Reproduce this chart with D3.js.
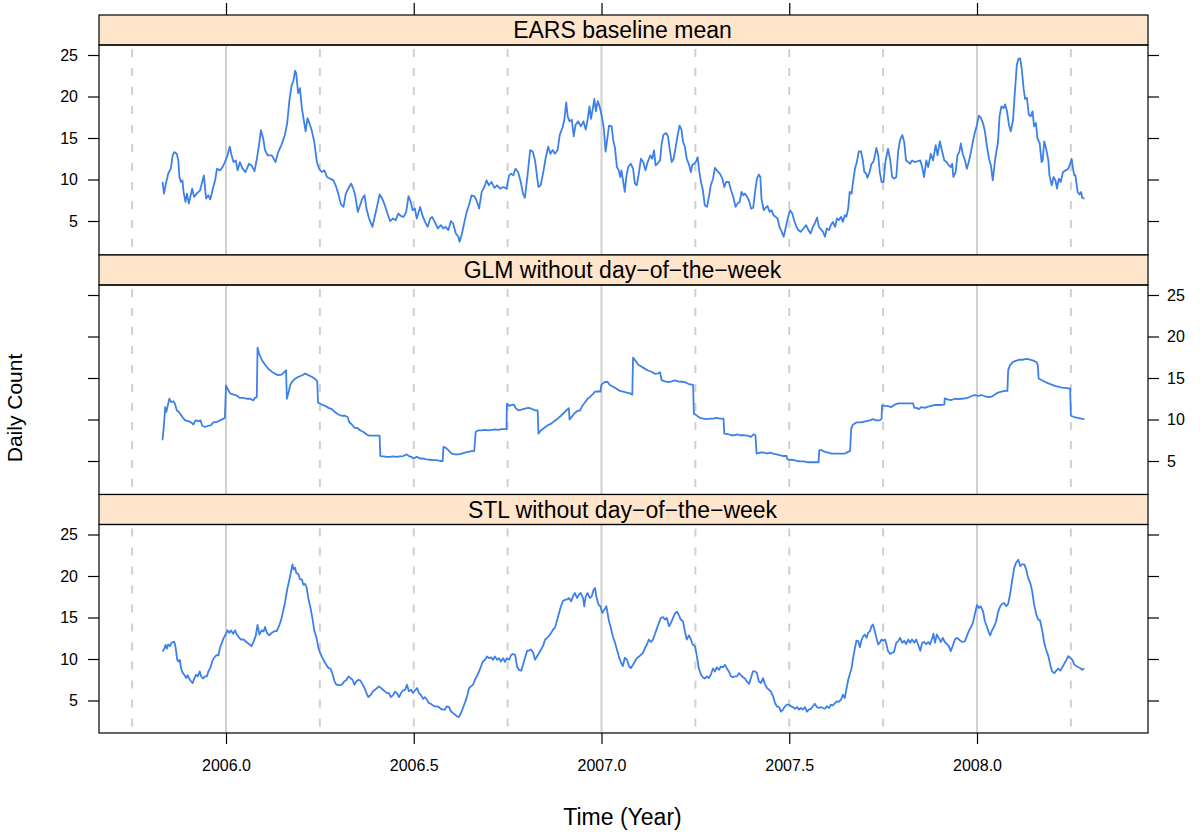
<!DOCTYPE html>
<html><head><meta charset="utf-8">
<script src="https://cdn.jsdelivr.net/npm/d3@7"></script>
<style>
body{margin:0;background:#fff}
svg{display:block}
text{font-family:"Liberation Sans",Arial,Helvetica,sans-serif;fill:#000}
</style>
</head><body>
<svg id="chart" width="1200" height="835"></svg>
<script>
// ---------------- data ----------------
const panelTitles = ["EARS baseline mean", "GLM without day\u2212of\u2212the\u2212week", "STL without day\u2212of\u2212the\u2212week"];
const xTicks = [2006.0, 2006.5, 2007.0, 2007.5, 2008.0];
const yTicks = [5, 10, 15, 20, 25];
const solidRefs = [2006, 2007, 2008];
const dashedRefs = [2005.75, 2006.25, 2006.5, 2006.75, 2007.25, 2007.5, 2007.75, 2008.25];
const xLabel = "Time (Year)";
const yLabel = "Daily Count";

const earsT = [2005.831,2005.835,2005.839,2005.846,2005.853,2005.858,2005.862,2005.869,2005.873,2005.876,2005.880,2005.884,2005.887,2005.892,2005.896,2005.901,2005.905,2005.910,2005.915,2005.922,2005.931,2005.941,2005.947,2005.953,2005.958,2005.964,2005.971,2005.976,2005.984,2005.991,2005.997,2006.004,2006.010,2006.015,2006.020,2006.026,2006.031,2006.037,2006.044,2006.052,2006.061,2006.068,2006.076,2006.083,2006.088,2006.093,2006.099,2006.104,2006.111,2006.122,2006.132,2006.139,2006.148,2006.157,2006.163,2006.169,2006.175,2006.179,2006.184,2006.187,2006.192,2006.197,2006.202,2006.207,2006.212,2006.217,2006.222,2006.228,2006.235,2006.242,2006.248,2006.255,2006.262,2006.269,2006.277,2006.286,2006.292,2006.299,2006.306,2006.313,2006.319,2006.328,2006.333,2006.339,2006.344,2006.351,2006.357,2006.363,2006.369,2006.374,2006.381,
2006.390,2006.397,2006.403,2006.409,2006.416,2006.423,2006.430,2006.437,2006.445,2006.452,2006.459,2006.466,2006.473,2006.480,2006.486,2006.492,2006.497,2006.503,2006.508,2006.512,2006.517,2006.523,2006.530,2006.537,2006.544,2006.549,2006.556,2006.564,2006.572,2006.579,2006.585,2006.592,2006.599,2006.605,2006.612,2006.619,2006.622,2006.628,2006.635,2006.641,2006.647,2006.654,2006.661,2006.667,2006.674,2006.681,2006.688,2006.694,2006.700,2006.707,2006.715,2006.722,2006.730,2006.739,2006.747,2006.754,2006.759,2006.765,2006.771,2006.778,2006.785,2006.791,2006.796,2006.803,2006.810,2006.817,2006.823,2006.828,2006.832,2006.838,2006.845,2006.851,2006.858,2006.864,2006.870,2006.876,2006.883,2006.889,2006.896,2006.901,2006.906,2006.910,2006.915,2006.921,2006.926,2006.931,2006.938,2006.945,2006.952,2006.958,2006.963,2006.968,2006.972,2006.977,2006.981,2006.985,2006.990,2006.995,2007.000,2007.006,2007.011,
2007.020,2007.027,2007.031,2007.036,2007.041,2007.046,2007.050,2007.053,2007.058,2007.062,2007.066,2007.071,2007.078,2007.084,2007.089,2007.094,2007.100,2007.105,2007.111,2007.117,2007.123,2007.130,2007.135,2007.140,2007.144,2007.149,2007.156,2007.160,2007.165,2007.172,2007.177,2007.182,2007.187,2007.192,2007.197,2007.203,2007.208,2007.213,2007.217,2007.222,2007.227,2007.233,2007.238,2007.242,2007.247,2007.252,2007.256,2007.260,2007.265,2007.270,2007.275,2007.281,2007.286,2007.291,2007.297,2007.302,2007.309,2007.315,2007.322,2007.327,2007.332,2007.339,2007.345,2007.351,2007.357,2007.362,2007.368,2007.373,2007.378,2007.382,2007.388,2007.394,2007.398,2007.404,2007.409,2007.414,2007.419,2007.423,2007.426,2007.432,2007.437,2007.442,2007.448,2007.453,2007.458,2007.464,2007.469,2007.474,2007.480,2007.485,2007.490,2007.496,2007.502,2007.508,2007.513,2007.519,2007.524,2007.531,2007.538,2007.545,2007.551,2007.557,2007.563,2007.568,2007.574,2007.579,2007.584,2007.590,2007.595,2007.600,2007.606,2007.611,2007.616,2007.622,2007.627,2007.632,2007.638,2007.643,2007.648,
2007.652,2007.657,2007.661,2007.666,2007.670,2007.675,2007.680,2007.685,2007.691,2007.696,2007.700,2007.705,2007.708,2007.714,2007.719,2007.724,2007.728,2007.732,2007.737,2007.741,2007.746,2007.751,2007.756,2007.763,2007.769,2007.774,2007.779,2007.785,2007.790,2007.795,2007.801,2007.806,2007.811,2007.817,2007.822,2007.827,2007.834,2007.842,2007.849,2007.854,2007.859,2007.865,2007.870,2007.877,2007.883,2007.890,2007.895,2007.901,2007.907,2007.913,2007.919,2007.925,2007.930,2007.934,2007.937,2007.943,2007.948,2007.953,2007.957,2007.962,2007.968,2007.973,2007.978,2007.984,2007.989,2007.994,2008.000,2008.005,2008.010,2008.016,2008.021,2008.026,2008.032,2008.037,2008.042,2008.048,2008.053,2008.056,2008.060,2008.065,2008.071,2008.075,2008.080,2008.085,2008.090,2008.096,2008.101,2008.106,2008.110,2008.115,2008.119,2008.124,2008.128,2008.133,2008.138,2008.143,2008.148,2008.152,2008.157,2008.161,2008.167,2008.172,2008.175,2008.179,2008.184,2008.190,2008.193,2008.199,2008.204,2008.209,2008.213,2008.218,2008.223,2008.229,2008.236,2008.243,2008.248,2008.252,2008.255,2008.259,2008.262,2008.268,2008.273,2008.277,2008.280,2008.286];
const earsV = [9.7,8.3,9.3,10.7,11.3,12.9,13.3,13.1,12.3,10.3,9.7,9.9,8.5,7.3,8.3,7.1,7.9,8.9,7.9,8.3,8.7,10.5,7.7,8.1,7.6,8.7,9.9,11.3,11.1,11.5,12.1,12.9,13.95,12.9,12.1,12.3,11.1,12.1,11.3,10.9,11.9,11.7,11.0,12.7,14.2,15.96,14.95,13.55,12.9,12.9,12.1,13.3,14.2,15.4,16.8,19.6,21.4,21.8,23.1,22.8,20.4,21.0,18.6,17.2,15.8,17.4,16.8,15.96,14.55,12.1,11.3,10.9,11.1,10.3,10.1,9.9,9.3,8.3,7.0,6.7,8.3,9.1,9.5,8.9,8.1,6.1,6.9,7.7,8.1,6.5,5.3,
4.3,5.7,6.9,8.2,7.7,6.9,5.9,5.0,5.3,5.1,5.9,5.6,5.5,6.1,8.0,7.3,6.3,6.5,5.3,5.9,6.7,5.7,4.9,4.3,5.3,5.5,4.9,4.1,4.5,4.1,4.3,3.9,5.0,4.7,3.5,3.1,2.5,3.4,4.9,6.1,6.9,8.1,8.0,7.5,6.5,8.5,9.1,9.9,9.3,9.7,9.0,9.3,8.9,9.1,8.9,10.5,10.7,10.5,11.3,10.9,9.7,8.3,7.8,10.5,13.55,13.35,12.3,10.5,9.1,9.3,10.9,12.5,13.95,13.1,13.55,13.1,13.55,15.4,16.2,17.2,19.3,17.6,17.0,17.2,15.2,16.6,17.0,16.4,17.0,16.0,17.2,18.8,17.3,18.6,19.7,18.2,19.45,18.8,17.8,16.2,13.35,
16.5,16.4,14.8,13.75,11.5,11.1,10.3,11.1,9.7,8.5,10.3,11.5,11.9,11.3,9.5,9.3,10.9,12.5,12.1,11.1,12.1,12.9,12.5,13.5,11.7,11.9,12.3,14.2,15.4,15.6,15.2,13.55,12.1,12.5,13.75,15.4,16.5,16.0,14.55,13.95,12.5,11.8,10.9,11.8,11.9,12.2,12.7,11.1,9.7,8.7,6.9,6.7,7.9,9.3,10.1,11.4,11.0,10.7,10.1,9.1,9.7,9.7,8.7,7.9,6.7,7.1,7.3,8.5,8.1,8.3,7.9,7.3,6.5,6.6,8.5,10.1,10.6,10.3,7.7,6.3,6.6,6.8,6.1,6.3,5.7,5.5,5.3,4.3,3.7,3.1,4.1,5.3,6.3,5.9,5.1,4.3,3.9,3.7,4.1,4.5,3.9,3.5,4.3,4.7,5.4,4.3,4.0,3.7,3.1,4.1,3.9,4.5,4.9,4.3,5.3,5.1,5.5,4.9,5.7,
5.5,6.5,8.5,8.3,9.7,11.3,12.1,13.35,13.4,12.3,10.9,10.7,10.2,10.9,11.9,12.1,12.9,13.8,12.9,10.9,9.7,9.7,12.1,13.7,12.3,10.3,10.1,10.3,13.35,14.75,15.35,14.55,12.3,12.1,11.9,12.3,12.1,12.2,12.3,11.5,10.3,12.3,11.5,13.1,12.3,14.15,12.9,14.6,13.4,12.3,12.1,11.7,11.5,11.9,10.3,10.9,12.9,13.35,14.35,13.1,12.3,11.3,12.1,13.35,14.55,15.6,16.6,17.7,17.45,16.8,15.8,14.15,12.5,11.7,9.9,12.3,13.75,14.55,17.6,18.8,18.6,19.05,18.2,16.6,15.8,17.2,20.6,23.8,24.5,24.6,23.4,21.0,19.7,19.85,17.8,17.6,18.2,16.4,16.8,14.95,14.35,12.1,12.3,14.6,13.75,12.3,10.5,9.3,10.3,9.9,8.9,10.1,9.7,10.9,11.1,11.3,11.9,12.5,11.5,10.5,10.5,8.5,8.2,8.5,7.8,7.7];

const glmT = [2005.831,2005.835,2005.838,2005.841,2005.845,2005.849,2005.854,2005.860,2005.864,2005.869,2005.873,2005.878,2005.884,2005.891,2005.900,2005.907,2005.913,2005.919,2005.926,2005.932,2005.937,2005.944,2005.953,2005.960,2005.966,2005.975,2005.984,2005.993,2005.997,2006.000,2006.004,2006.011,2006.020,2006.028,2006.037,2006.046,2006.055,2006.064,2006.073,2006.077,2006.082,2006.084,2006.088,2006.095,2006.104,2006.113,2006.122,2006.131,2006.139,2006.148,2006.157,2006.160,2006.162,2006.166,2006.171,2006.177,2006.184,2006.193,2006.202,2006.211,2006.219,2006.228,2006.237,2006.243,2006.245,2006.255,2006.264,2006.273,2006.282,2006.290,2006.299,2006.308,2006.317,2006.324,2006.328,2006.335,2006.342,2006.349,2006.357,2006.366,2006.375,
2006.381,2006.390,2006.398,2006.409,2006.411,2006.419,2006.428,2006.437,2006.445,2006.454,2006.463,2006.472,2006.481,2006.487,2006.494,2006.499,2006.508,2006.517,2006.525,2006.534,2006.543,2006.552,2006.561,2006.570,2006.577,2006.579,2006.585,2006.592,2006.601,2006.610,2006.619,2006.628,2006.636,2006.645,2006.654,2006.661,2006.665,2006.672,2006.681,2006.690,2006.699,2006.707,2006.716,2006.725,2006.734,2006.743,2006.747,2006.748,2006.754,2006.761,2006.767,2006.771,2006.778,2006.787,2006.796,2006.805,2006.814,2006.823,2006.830,2006.832,2006.839,2006.848,2006.857,2006.866,2006.874,2006.883,2006.892,2006.901,2006.910,2006.913,2006.915,2006.921,2006.928,2006.935,2006.943,2006.949,2006.956,2006.963,2006.970,2006.977,2006.983,2006.992,2006.997,2007.000,2007.008,
2007.016,2007.022,2007.031,2007.040,2007.049,2007.058,2007.067,2007.076,2007.082,2007.084,2007.091,2007.098,2007.107,2007.116,2007.124,2007.133,2007.142,2007.151,2007.156,2007.160,2007.169,2007.178,2007.187,2007.195,2007.204,2007.213,2007.222,2007.231,2007.240,2007.244,2007.246,2007.253,2007.262,2007.271,2007.280,2007.289,2007.298,2007.306,2007.315,2007.325,2007.327,2007.336,2007.345,2007.354,2007.362,2007.371,2007.380,2007.389,2007.398,2007.405,2007.410,2007.413,2007.422,2007.431,2007.440,2007.449,2007.457,2007.466,2007.475,2007.484,2007.493,2007.495,2007.504,2007.513,2007.521,2007.530,2007.539,2007.548,2007.557,2007.566,2007.575,2007.578,2007.580,2007.586,2007.595,2007.604,2007.613,2007.622,2007.631,2007.640,2007.648,
2007.657,2007.662,2007.665,2007.670,2007.679,2007.688,2007.697,2007.706,2007.715,2007.723,2007.732,2007.741,2007.746,2007.747,2007.755,2007.763,2007.772,2007.781,2007.790,2007.799,2007.808,2007.817,2007.826,2007.830,2007.833,2007.839,2007.845,2007.852,2007.861,2007.870,2007.879,2007.888,2007.897,2007.906,2007.913,2007.914,2007.923,2007.932,2007.941,2007.950,2007.959,2007.968,2007.977,2007.985,2007.994,2008.003,2008.012,2008.021,2008.030,2008.039,2008.048,2008.056,2008.065,2008.074,2008.081,2008.083,2008.088,2008.096,2008.105,2008.114,2008.123,2008.132,2008.141,2008.150,2008.159,2008.162,2008.164,2008.172,2008.181,2008.190,2008.199,2008.207,2008.216,2008.225,2008.234,2008.243,2008.248,2008.250,2008.259,2008.268,2008.277,2008.286];
const glmV = [7.5,9.5,11.5,10.9,11.7,12.5,12.1,12.2,11.9,11.1,11.0,10.7,10.3,9.9,9.8,9.65,9.4,9.9,9.8,9.9,9.25,9.1,9.25,9.3,9.65,9.7,9.9,10.1,10.2,14.1,13.7,13.15,13.0,12.9,12.6,12.6,12.5,12.5,12.3,12.6,12.7,18.65,17.95,17.2,16.6,16.1,15.75,15.5,15.35,15.4,15.8,15.95,12.5,13.15,14.15,14.6,14.9,15.15,15.3,15.55,15.35,15.15,14.9,14.6,12.05,11.8,11.65,11.4,11.25,10.9,10.6,10.45,10.45,10.3,9.7,9.4,9.0,9.0,8.7,8.5,8.2,
8.05,8.05,8.05,8.05,5.6,5.55,5.5,5.5,5.55,5.5,5.55,5.6,5.8,5.6,5.5,5.3,5.5,5.3,5.3,5.2,5.15,5.1,5.1,5.0,5.0,6.7,6.6,6.3,5.9,5.8,5.8,5.9,6.0,6.1,6.2,6.2,8.5,8.7,8.7,8.75,8.7,8.75,8.8,8.75,8.85,8.85,8.85,11.9,11.65,11.75,11.8,11.4,11.1,11.2,11.3,11.4,11.3,11.1,11.1,8.3,8.7,9.0,9.3,9.5,9.8,10.1,10.45,10.85,11.25,11.35,10.0,10.35,10.75,11.0,11.1,11.65,12.05,12.5,12.75,13.05,13.35,13.4,13.35,14.2,14.5,
14.55,14.15,13.95,13.7,13.45,13.35,13.25,13.15,13.0,17.45,17.05,16.6,16.35,16.1,15.9,15.75,15.5,15.55,15.7,14.75,14.6,14.5,14.6,14.7,14.6,14.55,14.5,14.3,14.2,14.15,10.7,10.5,10.2,10.1,10.05,10.1,10.1,10.2,10.1,10.1,8.3,8.25,8.1,8.1,8.2,8.1,8.1,8.05,7.9,8.2,8.1,5.9,6.0,6.05,5.9,6.0,5.9,5.8,5.7,5.6,5.6,5.2,5.15,5.1,5.0,4.95,4.95,4.85,4.85,4.85,4.85,4.85,6.3,6.3,6.1,6.0,5.9,5.9,5.9,5.9,5.9,
6.1,6.2,8.9,9.4,9.65,9.65,9.7,9.8,9.9,10.05,9.9,9.9,10.1,11.7,11.65,11.6,11.5,11.8,11.95,11.95,11.95,11.95,11.95,11.95,11.4,11.4,11.25,11.5,11.4,11.55,11.65,11.75,11.75,11.75,11.8,12.55,12.4,12.35,12.5,12.45,12.5,12.55,12.65,12.8,12.95,12.85,12.95,12.8,12.7,12.75,13.0,13.25,13.35,13.45,13.45,15.95,16.55,16.95,17.1,17.2,17.2,17.3,17.2,17.1,16.9,16.55,14.95,14.75,14.55,14.35,14.2,14.05,13.95,13.85,13.8,13.75,13.75,10.45,10.3,10.2,10.1,10.05];

const stlT = [2005.831,2005.836,2005.839,2005.843,2005.846,2005.851,2005.855,2005.862,2005.866,2005.870,2005.873,2005.877,2005.880,2005.885,2005.889,2005.894,2005.898,2005.902,2005.907,2005.911,2005.916,2005.920,2005.925,2005.930,2005.934,2005.939,2005.944,2005.949,2005.953,2005.958,2005.964,2005.969,2005.974,2005.980,2005.984,2005.989,2005.994,2005.999,2006.004,2006.009,2006.013,2006.019,2006.024,2006.029,2006.035,2006.040,2006.047,2006.054,2006.061,2006.068,2006.074,2006.079,2006.084,2006.089,2006.095,2006.100,2006.104,2006.109,2006.115,2006.122,2006.129,2006.135,2006.141,2006.147,2006.152,2006.157,2006.163,2006.168,2006.172,2006.177,2006.180,2006.184,2006.187,2006.193,2006.197,2006.202,2006.206,2006.211,2006.215,2006.219,2006.225,2006.230,2006.235,2006.241,2006.246,2006.251,2006.257,2006.262,2006.267,2006.273,2006.278,2006.283,2006.289,2006.294,2006.299,2006.305,2006.310,2006.315,2006.321,2006.326,2006.331,2006.337,2006.342,2006.347,2006.353,2006.358,2006.363,2006.369,2006.374,2006.379,
2006.386,2006.391,2006.397,2006.402,2006.407,2006.413,2006.418,2006.423,2006.429,2006.434,2006.439,2006.445,2006.450,2006.455,2006.461,2006.466,2006.471,2006.477,2006.482,2006.487,2006.493,2006.498,2006.503,2006.509,2006.514,2006.519,2006.525,2006.530,2006.535,2006.540,2006.546,2006.551,2006.556,2006.562,2006.567,2006.572,2006.578,2006.583,2006.588,2006.594,2006.599,2006.604,2006.610,2006.615,2006.620,2006.626,2006.631,2006.636,2006.642,2006.647,2006.652,2006.658,2006.663,2006.668,2006.674,2006.679,2006.684,2006.690,2006.695,2006.700,2006.706,2006.711,2006.716,2006.722,2006.727,2006.732,2006.738,2006.743,2006.748,2006.754,2006.759,2006.764,2006.770,2006.775,2006.780,2006.786,2006.791,2006.796,2006.802,2006.807,2006.812,2006.818,2006.823,2006.828,2006.834,2006.839,2006.844,2006.850,2006.855,2006.860,2006.866,2006.871,2006.876,2006.881,2006.887,2006.892,2006.897,2006.903,2006.908,2006.913,2006.919,2006.924,2006.929,2006.935,2006.940,2006.945,2006.951,2006.954,2006.958,2006.963,2006.969,2006.974,2006.979,2006.983,2006.986,2006.992,2006.997,2007.002,2007.008,2007.013,
2007.020,2007.025,2007.030,2007.036,2007.041,2007.046,2007.052,2007.057,2007.062,2007.068,2007.073,2007.078,2007.084,2007.089,2007.094,2007.100,2007.105,2007.110,2007.116,2007.121,2007.126,2007.132,2007.137,2007.142,2007.148,2007.153,2007.158,2007.164,2007.169,2007.174,2007.180,2007.185,2007.190,2007.195,2007.201,2007.206,2007.211,2007.217,2007.222,2007.227,2007.233,2007.238,2007.243,2007.249,2007.254,2007.259,2007.265,2007.270,2007.275,2007.281,2007.286,2007.291,2007.297,2007.302,2007.307,2007.313,2007.318,2007.323,2007.329,2007.334,2007.339,2007.345,2007.350,2007.355,2007.361,2007.366,2007.371,2007.377,2007.382,2007.387,2007.393,2007.398,2007.403,2007.409,2007.414,2007.419,2007.425,2007.430,2007.435,2007.441,2007.446,2007.451,2007.457,2007.462,2007.467,2007.473,2007.478,2007.483,2007.489,2007.494,2007.499,2007.505,2007.510,2007.515,2007.521,2007.526,2007.531,2007.536,2007.542,2007.547,2007.552,2007.558,2007.563,2007.568,2007.574,2007.579,2007.584,2007.590,2007.595,2007.600,2007.606,2007.611,2007.616,2007.622,2007.627,2007.632,2007.638,2007.643,2007.648,
2007.652,2007.657,2007.661,2007.666,2007.670,2007.675,2007.679,2007.684,2007.688,2007.692,2007.697,2007.701,2007.706,2007.710,2007.715,2007.719,2007.723,2007.728,2007.732,2007.737,2007.741,2007.746,2007.750,2007.755,2007.759,2007.763,2007.769,2007.774,2007.779,2007.785,2007.790,2007.795,2007.801,2007.806,2007.811,2007.817,2007.822,2007.827,2007.833,2007.838,2007.843,2007.849,2007.854,2007.859,2007.865,2007.870,2007.875,2007.881,2007.884,2007.888,2007.893,2007.898,2007.904,2007.909,2007.914,2007.920,2007.925,2007.930,2007.936,2007.941,2007.946,2007.952,2007.957,2007.962,2007.968,2007.973,2007.978,2007.984,2007.989,2007.994,2008.000,2008.005,2008.010,2008.016,2008.021,2008.026,2008.032,2008.035,2008.040,2008.046,2008.051,2008.056,2008.062,2008.067,2008.072,2008.078,2008.083,2008.088,2008.094,2008.099,2008.104,2008.110,2008.115,2008.120,2008.126,2008.131,2008.136,2008.142,2008.147,2008.152,2008.158,2008.163,2008.168,2008.174,2008.179,2008.184,2008.190,2008.195,2008.200,2008.206,2008.211,2008.216,2008.222,2008.227,2008.232,2008.238,2008.243,2008.248,2008.254,2008.259,2008.264,2008.270,2008.275,2008.280,2008.286];
const stlV = [10.9,11.25,11.7,11.25,11.75,11.55,11.95,12.1,11.35,9.9,9.7,9.9,8.9,8.3,8.1,7.7,8.05,7.65,7.3,7.1,7.7,8.1,7.9,8.5,7.9,7.65,7.9,7.9,8.5,8.9,9.8,10.2,10.45,10.45,11.35,11.95,12.55,12.95,13.45,13.15,13.45,13.05,13.45,12.95,12.55,12.35,12.35,12.05,11.8,11.55,12.15,12.75,14.1,12.95,13.45,13.3,13.85,13.15,12.85,13.15,13.35,13.35,13.95,14.75,15.75,16.75,18.4,19.4,20.25,21.4,20.8,21.0,20.4,20.2,19.6,19.6,18.95,19.05,18.55,17.35,16.15,14.95,13.45,12.55,11.35,10.7,10.1,9.7,9.3,8.9,8.85,8.3,7.3,6.9,6.85,6.85,7.0,7.3,7.5,7.9,7.7,7.5,6.9,7.3,7.5,7.4,7.0,6.5,5.9,5.4,
5.7,6.1,6.3,6.5,6.7,6.5,6.3,6.1,5.9,5.9,5.4,5.65,6.05,5.9,5.4,5.9,6.2,6.3,6.9,6.1,6.3,5.9,6.2,6.5,5.9,5.65,5.2,5.4,5.1,4.7,4.6,4.4,4.3,4.3,4.2,4.0,3.9,3.9,4.3,4.2,3.7,3.5,3.3,3.1,3.0,3.5,4.1,4.7,5.5,6.45,6.7,6.9,7.5,7.9,8.5,9.1,9.7,9.9,10.3,10.1,10.2,9.9,10.3,9.9,10.1,9.7,10.1,9.65,10.1,9.9,10.45,10.6,10.5,9.1,8.7,8.6,9.3,10.1,11.0,11.0,11.15,10.75,9.9,10.3,10.75,11.15,11.55,12.35,12.55,12.75,13.15,13.55,13.75,14.55,15.55,16.35,16.95,17.15,17.15,17.35,16.95,17.55,17.95,17.35,17.75,17.95,17.3,16.35,17.55,17.95,17.35,17.55,18.35,18.55,17.55,16.55,16.35,15.55,15.95,16.35,
14.55,13.75,12.75,11.95,11.15,10.35,9.55,9.15,10.15,9.9,9.15,8.9,9.3,9.7,10.1,10.3,10.5,10.7,11.35,11.75,12.35,12.05,12.35,12.95,13.75,14.35,14.95,15.05,14.75,14.95,13.95,14.35,14.9,15.45,15.7,15.3,14.75,14.55,13.35,12.35,12.85,12.35,11.75,11.55,10.35,8.9,8.1,7.8,7.65,7.9,7.7,8.1,8.85,8.5,9.0,8.7,9.1,9.0,9.3,8.85,8.5,7.9,7.8,7.9,7.9,8.3,8.05,7.8,7.65,7.3,7.0,7.7,8.5,8.5,8.3,7.3,7.1,7.7,7.0,6.5,6.3,6.1,5.5,4.7,4.3,4.2,3.65,3.9,4.3,4.5,4.5,4.3,4.2,4.0,4.2,3.9,4.1,3.9,4.2,3.65,3.9,4.0,4.3,4.6,4.2,4.1,4.2,4.1,4.0,4.3,4.1,4.5,4.4,4.7,4.9,4.85,5.1,5.7,5.3,
6.3,7.5,8.1,8.9,10.1,11.35,12.2,12.15,11.4,12.2,12.75,12.95,12.55,13.15,13.35,13.95,14.15,13.35,12.55,11.75,11.95,12.35,12.2,12.35,11.75,10.95,10.6,10.75,10.85,11.95,12.15,12.55,11.95,12.2,11.8,12.35,11.95,12.35,11.95,12.35,11.75,11.0,11.95,12.05,11.8,12.05,11.75,12.55,13.05,11.95,12.95,12.55,12.05,12.55,12.05,11.8,11.55,10.95,11.65,12.35,12.55,12.35,12.15,12.05,12.15,12.75,13.35,13.85,14.35,15.35,16.5,16.15,16.35,15.75,14.55,13.95,13.15,12.85,13.45,13.95,14.55,15.65,16.35,16.65,16.75,16.35,16.65,17.75,19.55,20.95,21.6,21.95,21.2,21.4,21.4,20.8,19.8,19.15,18.15,16.55,15.35,14.75,14.65,13.35,11.95,11.15,10.35,9.35,8.5,8.3,8.6,8.85,8.6,9.0,9.4,9.9,10.35,10.15,9.9,9.35,9.15,9.0,8.9,8.7,8.85];

// ---------------- layout ----------------
const svg = d3.select("#chart");
const left = 99, right = 1148;
const stripH = 30;
const panelTops = [15, 255, 494.5];      // strip tops
const panelBottoms = [255, 494.5, 733];  // plot bottoms
const pxPerUnit = 8.3;
const lineColor = "#3d80ea";
const refColor = "#d0d0d0";
const stripFill = "#ffe5cc";
const fontFam = '"Liberation Sans",Arial,Helvetica,sans-serif';

const x = d3.scaleLinear()
  .domain([2006 - 127 / 375.5, 2008 + 171 / 375.5])
  .range([left, right]);

const zip = (t, v) => t.map((d, i) => ({t: d, v: v[i]}));
const series = [zip(earsT, earsV), zip(glmT, glmV), zip(stlT, stlV)];

series.forEach((data, p) => {
  const sTop = panelTops[p];
  const pTop = sTop + stripH;
  const pBot = panelBottoms[p];
  const vTop = 25 + 10 / pxPerUnit;
  const vBot = 25 - (pBot - (pTop + 10)) / pxPerUnit;
  const y = d3.scaleLinear().domain([vBot, vTop]).range([pBot, pTop]);

  const g = svg.append("g");

  // reference lines
  g.selectAll("line.solid").data(solidRefs).enter().append("line")
    .attr("x1", d => x(d)).attr("x2", d => x(d))
    .attr("y1", pTop).attr("y2", pBot)
    .attr("stroke", refColor).attr("stroke-width", 2);
  g.selectAll("line.dash").data(dashedRefs).enter().append("line")
    .attr("x1", d => x(d)).attr("x2", d => x(d))
    .attr("y1", pTop + 4).attr("y2", pBot)
    .attr("stroke", refColor).attr("stroke-width", 2)
    .attr("stroke-dasharray", "8,11");

  // series line
  g.append("path").datum(data)
    .attr("fill", "none").attr("stroke", lineColor).attr("stroke-width", 1.8)
    .attr("stroke-linejoin", "round")
    .attr("d", d3.line().x(d => x(d.t)).y(d => y(d.v)));

  // strip
  g.append("rect").attr("x", left).attr("y", sTop).attr("width", right - left).attr("height", stripH)
    .attr("fill", stripFill).attr("stroke", "#000").attr("stroke-width", 1.2);
  g.append("text").attr("x", (left + right) / 2 - 1).attr("y", sTop + stripH / 2 + 8)
    .attr("text-anchor", "middle").attr("font-size", 23).text(panelTitles[p]);

  // panel border
  g.append("rect").attr("x", left).attr("y", pTop).attr("width", right - left).attr("height", pBot - pTop)
    .attr("fill", "none").attr("stroke", "#000").attr("stroke-width", 1.2);

  // y axes (lattice alternating)
  const leftLabels = (p !== 1);
  const axL = d3.axisLeft(y).tickValues(yTicks).tickSize(11).tickPadding(10)
    .tickFormat(leftLabels ? d3.format("d") : () => "");
  const axR = d3.axisRight(y).tickValues(yTicks).tickSize(11).tickPadding(8)
    .tickFormat(!leftLabels ? d3.format("d") : () => "");
  const gl = svg.append("g").attr("transform", `translate(${left},0)`).call(axL);
  const gr = svg.append("g").attr("transform", `translate(${right},0)`).call(axR);
  [gl, gr].forEach(a => {
    a.select(".domain").remove();
    a.selectAll("line").attr("stroke", "#000").attr("stroke-width", 1.2);
    a.selectAll("text").attr("font-size", 16).attr("font-family", fontFam).attr("fill", "#000");
  });
});

// top ticks
const axTop = d3.axisTop(x).tickValues(xTicks).tickSize(12).tickFormat(() => "");
const gt = svg.append("g").attr("transform", `translate(0,${panelTops[0]})`).call(axTop);
gt.select(".domain").remove();
gt.selectAll("line").attr("stroke", "#000").attr("stroke-width", 1.2);

// bottom axis
const axBot = d3.axisBottom(x).tickValues(xTicks).tickSize(11).tickPadding(16).tickFormat(d3.format(".1f"));
const gb = svg.append("g").attr("transform", `translate(0,${panelBottoms[2]})`).call(axBot);
gb.select(".domain").remove();
gb.selectAll("line").attr("stroke", "#000").attr("stroke-width", 1.2);
gb.selectAll("text").attr("font-size", 16).attr("font-family", fontFam).attr("fill", "#000");

// axis titles
svg.append("text").attr("x", (left + right) / 2 - 1).attr("y", 825)
  .attr("text-anchor", "middle").attr("font-size", 23).text(xLabel);
svg.append("text").attr("transform", `translate(22,408) rotate(-90)`)
  .attr("text-anchor", "middle").attr("font-size", 21).text(yLabel);
</script>
</body></html>
